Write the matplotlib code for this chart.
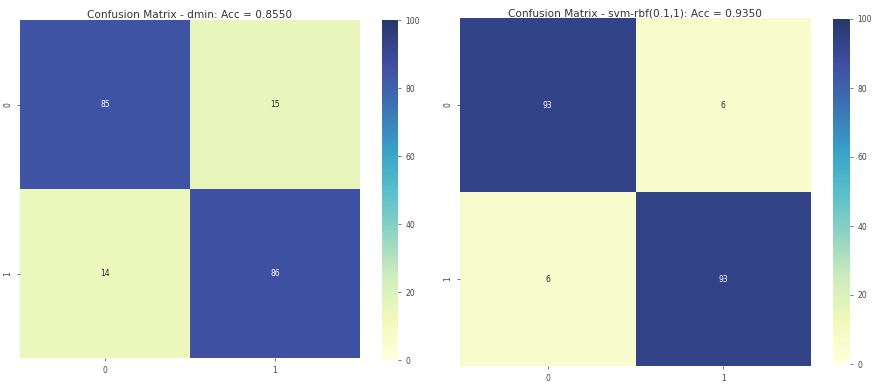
import matplotlib
matplotlib.use("Agg")
import matplotlib.pyplot as plt
from matplotlib.colors import ListedColormap
import numpy as np
import seaborn as sns

# 混同行列の値 (行: 正解, 列: 予測)
class_labels = ["0", "1"]
cm_dmin = [[85, 15],
           [14, 86]]
cm_svm = [[93, 6],
          [6, 93]]
acc_dmin = 0.8550
acc_svm = 0.9350

W, H = 874, 384
fig = plt.figure(figsize=(W / 100, H / 100), dpi=100)

# YlGnBu を少し白寄せにした色
base = plt.get_cmap("YlGnBu")(np.linspace(0, 1, 256))
fade = 0.12
base[:, :3] = base[:, :3] * (1 - fade) + fade
cmap = ListedColormap(base)


def px_axes(x0, y0, x1, y1):
    # ピクセル座標(左上原点)から axes を作る
    return fig.add_axes([x0 / W, 1 - y1 / H, (x1 - x0) / W, (y1 - y0) / H])


def draw_cm(ax, cax, cm, title, title_y):
    sns.heatmap(np.array(cm), annot=True, fmt="d", cmap=cmap,
                vmin=0, vmax=100, ax=ax, cbar_ax=cax,
                xticklabels=class_labels, yticklabels=class_labels,
                annot_kws={"fontsize": 5.5})
    ax.set_title(title, fontsize=7.6, color="#333333", y=title_y, pad=0)
    ax.tick_params(axis="both", labelsize=5.5, colors="#444444",
                   length=2, width=0.5)
    ax.tick_params(axis="y", labelrotation=90)
    cax.tick_params(labelsize=5.5, colors="#444444", length=2, width=0.5)
    cax.set_yticks([0, 20, 40, 60, 80, 100])
    cax.set_frame_on(False)


ax1 = px_axes(20, 20, 360, 358)
cax1 = px_axes(382, 20, 398, 360)
draw_cm(ax1, cax1, cm_dmin,
        "Confusion Matrix - dmin: Acc = %.4f" % acc_dmin, 1.005)

ax2 = px_axes(460, 18, 811, 366)
cax2 = px_axes(833, 19, 850, 364)
draw_cm(ax2, cax2, cm_svm,
        "Confusion Matrix - svm-rbf(0.1,1): Acc = %.4f" % acc_svm, 1.005)

fig.savefig("out.png", dpi=100)
